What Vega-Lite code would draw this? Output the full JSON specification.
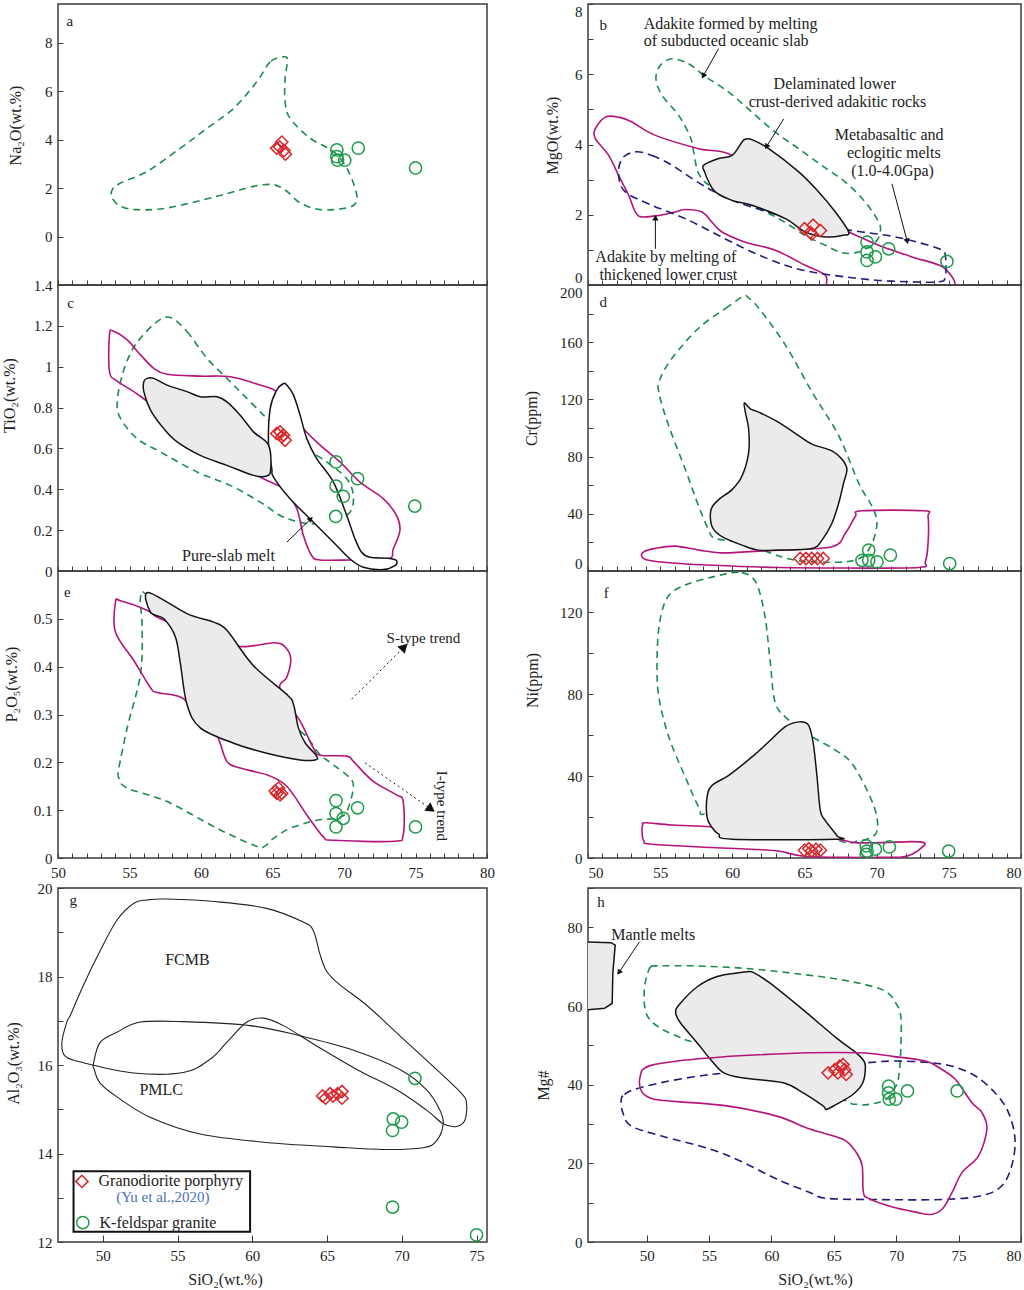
{
"$schema":"https://vega.github.io/schema/vega-lite/v6.json",
"background":"white",
"padding":{"left":0,"top":2,"right":0,"bottom":0},
"config":{
 "view":{"stroke":"#3c3c3c","strokeWidth":1.5},
 "axis":{"domain":false,"grid":false,"offset":-5,"tickSize":5,"tickColor":"#3c3c3c","tickWidth":1,"labelFont":"Liberation Serif","labelFontSize":15,"labelColor":"#222","labelPadding":6,"labelFlush":false,"labelOverlap":false,"titleFont":"Liberation Serif","titleFontSize":16,"titleFontWeight":"normal","titleColor":"#222","titleBaseline":"middle"},
 "axisX":{"labelPadding":7},
 "text":{"font":"Liberation Serif","fontSize":15,"color":"#222"}
},
"datasets":{
 "a_slab":[{"x":65.77,"y":7.42},{"x":64.84,"y":7.21},{"x":63.9,"y":6.39},{"x":62.28,"y":5.29},{"x":60.42,"y":4.47},{"x":58.56,"y":3.65},{"x":56.23,"y":2.69},{"x":54.37,"y":2.21},{"x":53.79,"y":1.93},{"x":53.79,"y":1.59},{"x":54.37,"y":1.25},{"x":55.53,"y":1.11},{"x":57.63,"y":1.18},{"x":61.12,"y":1.66},{"x":63.67,"y":2.07},{"x":65.07,"y":2.14},{"x":66.0,"y":1.87},{"x":66.93,"y":1.39},{"x":68.33,"y":1.11},{"x":70.19,"y":1.18},{"x":70.88,"y":1.45},{"x":70.77,"y":2.0},{"x":70.19,"y":2.83},{"x":69.26,"y":3.51},{"x":67.63,"y":4.06},{"x":66.23,"y":4.88},{"x":65.88,"y":5.57},{"x":65.88,"y":6.53},{"x":66.05,"y":7.28}],
 "b_slab":[{"x":55.82,"y":6.44},{"x":56.97,"y":6.3},{"x":58.01,"y":5.97},{"x":59.75,"y":5.49},{"x":61.36,"y":4.92},{"x":62.98,"y":4.35},{"x":64.6,"y":3.88},{"x":66.21,"y":3.4},{"x":67.83,"y":2.93},{"x":69.21,"y":2.36},{"x":70.14,"y":1.79},{"x":70.25,"y":1.51},{"x":69.91,"y":1.22},{"x":68.75,"y":0.94},{"x":67.6,"y":0.92},{"x":66.44,"y":1.13},{"x":65.06,"y":1.41},{"x":63.21,"y":1.89},{"x":60.9,"y":2.36},{"x":58.59,"y":2.79},{"x":57.67,"y":3.17},{"x":57.32,"y":3.79},{"x":57.09,"y":4.21},{"x":56.28,"y":4.83},{"x":55.13,"y":5.4},{"x":54.71,"y":5.87},{"x":55.01,"y":6.25}],
 "b_thick":[{"x":51.2,"y":4.78},{"x":52.12,"y":4.78},{"x":53.05,"y":4.64},{"x":54.67,"y":4.26},{"x":57.67,"y":3.88},{"x":59.98,"y":3.69},{"x":63.21,"y":2.74},{"x":65.52,"y":1.98},{"x":68.06,"y":1.51},{"x":70.14,"y":1.13},{"x":72.45,"y":0.8},{"x":74.76,"y":0.46},{"x":74.8,"y":-0.2},{"x":67.37,"y":-0.2},{"x":66.44,"y":0.28},{"x":65.06,"y":0.56},{"x":62.98,"y":0.99},{"x":60.9,"y":1.22},{"x":59.28,"y":1.51},{"x":58.59,"y":1.79},{"x":57.9,"y":2.08},{"x":56.74,"y":2.15},{"x":56.05,"y":2.08},{"x":54.9,"y":1.98},{"x":53.74,"y":1.94},{"x":53.28,"y":2.08},{"x":52.82,"y":2.55},{"x":52.12,"y":3.12},{"x":51.43,"y":3.69},{"x":50.51,"y":4.17},{"x":50.51,"y":4.45}],
 "b_meta":[{"x":53.28,"y":3.79},{"x":54.43,"y":3.69},{"x":55.82,"y":3.41},{"x":57.21,"y":3.03},{"x":58.59,"y":2.69},{"x":59.98,"y":2.41},{"x":62.06,"y":2.13},{"x":64.36,"y":1.84},{"x":66.67,"y":1.65},{"x":68.98,"y":1.51},{"x":71.29,"y":1.37},{"x":73.6,"y":1.13},{"x":74.53,"y":0.99},{"x":74.76,"y":0.84},{"x":74.76,"y":0.23},{"x":74.3,"y":0.09},{"x":72.45,"y":0.09},{"x":70.14,"y":0.13},{"x":67.83,"y":0.23},{"x":65.52,"y":0.37},{"x":63.67,"y":0.56},{"x":61.36,"y":0.94},{"x":59.05,"y":1.41},{"x":56.74,"y":1.89},{"x":54.43,"y":2.27},{"x":52.59,"y":2.65},{"x":52.12,"y":3.12},{"x":52.36,"y":3.6}],
 "b_delam":[{"x":58.01,"y":3.41},{"x":59.05,"y":3.6},{"x":59.98,"y":3.69},{"x":60.67,"y":4.07},{"x":60.9,"y":4.15},{"x":61.36,"y":4.14},{"x":62.52,"y":3.88},{"x":64.6,"y":3.22},{"x":65.98,"y":2.65},{"x":67.14,"y":2.08},{"x":68.06,"y":1.51},{"x":67.6,"y":1.41},{"x":66.44,"y":1.37},{"x":65.06,"y":1.51},{"x":63.67,"y":1.89},{"x":61.36,"y":2.27},{"x":59.98,"y":2.41},{"x":58.82,"y":2.65},{"x":58.36,"y":2.94},{"x":58.08,"y":3.22}],
 "c_slab":[{"x":57.86,"y":1.241},{"x":59.02,"y":1.172},{"x":60.42,"y":1.041},{"x":61.81,"y":0.943},{"x":62.98,"y":0.861},{"x":64.37,"y":0.763},{"x":65.3,"y":0.697},{"x":66.93,"y":0.616},{"x":68.79,"y":0.534},{"x":70.19,"y":0.452},{"x":70.65,"y":0.37},{"x":70.42,"y":0.288},{"x":69.26,"y":0.247},{"x":67.86,"y":0.231},{"x":66.7,"y":0.242},{"x":65.53,"y":0.272},{"x":64.14,"y":0.337},{"x":62.05,"y":0.419},{"x":59.72,"y":0.485},{"x":57.16,"y":0.583},{"x":55.53,"y":0.648},{"x":54.37,"y":0.747},{"x":54.14,"y":0.828},{"x":54.49,"y":0.959},{"x":55.07,"y":1.066},{"x":55.77,"y":1.14},{"x":56.93,"y":1.221}],
 "c_thick":[{"x":53.84,"y":1.175},{"x":54.84,"y":1.131},{"x":55.77,"y":1.058},{"x":56.7,"y":0.992},{"x":57.63,"y":0.963},{"x":59.95,"y":0.954},{"x":62.05,"y":0.951},{"x":64.14,"y":0.91},{"x":65.3,"y":0.878},{"x":66.23,"y":0.796},{"x":67.16,"y":0.697},{"x":68.33,"y":0.616},{"x":69.72,"y":0.534},{"x":71.12,"y":0.435},{"x":72.74,"y":0.354},{"x":73.67,"y":0.272},{"x":73.91,"y":0.198},{"x":73.44,"y":0.108},{"x":73.09,"y":0.059},{"x":70.42,"y":0.054},{"x":68.33,"y":0.054},{"x":67.74,"y":0.075},{"x":67.16,"y":0.174},{"x":66.7,"y":0.305},{"x":65.77,"y":0.403},{"x":64.14,"y":0.46},{"x":59.95,"y":0.632},{"x":55.81,"y":0.853},{"x":54.19,"y":0.927},{"x":53.6,"y":0.976},{"x":53.6,"y":1.155}],
 "c_delam":[{"x":56.23,"y":0.943},{"x":56.0,"y":0.927},{"x":56.0,"y":0.878},{"x":56.47,"y":0.788},{"x":57.4,"y":0.697},{"x":58.33,"y":0.632},{"x":59.95,"y":0.566},{"x":61.81,"y":0.517},{"x":63.67,"y":0.468},{"x":64.6,"y":0.465},{"x":64.88,"y":0.501},{"x":64.72,"y":0.616},{"x":63.67,"y":0.681},{"x":62.74,"y":0.763},{"x":61.81,"y":0.828},{"x":61.12,"y":0.853},{"x":59.95,"y":0.853},{"x":59.02,"y":0.878},{"x":57.63,"y":0.91},{"x":56.7,"y":0.943}],
 "c_pure":[{"x":65.77,"y":0.918},{"x":66.0,"y":0.91},{"x":66.47,"y":0.861},{"x":66.93,"y":0.763},{"x":67.4,"y":0.648},{"x":68.09,"y":0.55},{"x":69.26,"y":0.435},{"x":70.19,"y":0.272},{"x":70.77,"y":0.157},{"x":71.23,"y":0.092},{"x":71.81,"y":0.067},{"x":73.09,"y":0.062},{"x":73.67,"y":0.051},{"x":73.56,"y":0.026},{"x":72.74,"y":0.007},{"x":71.35,"y":0.018},{"x":70.42,"y":0.059},{"x":69.26,"y":0.141},{"x":67.86,"y":0.239},{"x":66.23,"y":0.354},{"x":65.07,"y":0.46},{"x":64.95,"y":0.501},{"x":64.72,"y":0.616},{"x":64.84,"y":0.796},{"x":65.3,"y":0.886}],
 "d_slab":[{"x":60.79,"y":192.2},{"x":59.75,"y":185.2},{"x":57.67,"y":169.9},{"x":55.82,"y":148.7},{"x":55.01,"y":134.6},{"x":54.9,"y":125.2},{"x":55.59,"y":101.6},{"x":56.74,"y":71.1},{"x":57.67,"y":45.2},{"x":58.36,"y":28.7},{"x":58.82,"y":22.8},{"x":60.9,"y":19.3},{"x":62.75,"y":12.2},{"x":64.13,"y":8.0},{"x":65.52,"y":6.4},{"x":67.83,"y":6.4},{"x":68.98,"y":9.9},{"x":69.68,"y":19.3},{"x":70.02,"y":33.4},{"x":69.68,"y":45.2},{"x":68.75,"y":61.6},{"x":67.37,"y":94.6},{"x":65.52,"y":125.2},{"x":63.67,"y":158.1},{"x":61.82,"y":184.0},{"x":61.13,"y":191.0}],
 "d_thick":[{"x":53.86,"y":13.4},{"x":53.74,"y":9.9},{"x":54.2,"y":7.5},{"x":55.82,"y":5.6},{"x":58.59,"y":4.0},{"x":63.21,"y":2.4},{"x":67.83,"y":2.1},{"x":72.91,"y":2.4},{"x":73.37,"y":6.4},{"x":73.56,"y":19.3},{"x":73.56,"y":38.1},{"x":73.26,"y":42.1},{"x":68.98,"y":42.1},{"x":68.52,"y":38.1},{"x":67.83,"y":26.4},{"x":66.9,"y":16.9},{"x":63.21,"y":14.6},{"x":60.9,"y":13.4},{"x":59.28,"y":12.7},{"x":57.67,"y":14.6},{"x":56.05,"y":17.4},{"x":54.67,"y":15.8}],
 "d_delam":[{"x":60.83,"y":117.6},{"x":61.25,"y":113.4},{"x":61.82,"y":111.1},{"x":63.21,"y":104.0},{"x":64.6,"y":94.6},{"x":65.52,"y":88.7},{"x":66.9,"y":84.0},{"x":67.6,"y":78.1},{"x":67.94,"y":71.1},{"x":67.71,"y":61.6},{"x":67.37,"y":47.5},{"x":66.9,"y":33.4},{"x":66.21,"y":21.6},{"x":65.52,"y":15.8},{"x":63.21,"y":14.6},{"x":61.82,"y":14.6},{"x":60.67,"y":18.1},{"x":59.28,"y":24.0},{"x":58.59,"y":31.1},{"x":58.52,"y":42.8},{"x":59.05,"y":49.9},{"x":59.98,"y":56.9},{"x":60.67,"y":66.4},{"x":61.13,"y":82.8},{"x":61.13,"y":99.3},{"x":60.9,"y":111.1}],
 "e_slab":[{"x":55.77,"y":0.545},{"x":56.35,"y":0.545},{"x":59.95,"y":0.413},{"x":64.6,"y":0.307},{"x":66.93,"y":0.265},{"x":67.63,"y":0.244},{"x":68.33,"y":0.216},{"x":69.26,"y":0.195},{"x":70.42,"y":0.167},{"x":70.65,"y":0.146},{"x":70.19,"y":0.097},{"x":69.49,"y":0.083},{"x":68.09,"y":0.079},{"x":66.23,"y":0.062},{"x":65.07,"y":0.041},{"x":64.37,"y":0.023},{"x":63.67,"y":0.027},{"x":61.12,"y":0.062},{"x":57.63,"y":0.118},{"x":54.84,"y":0.146},{"x":54.26,"y":0.167},{"x":54.26,"y":0.188},{"x":54.84,"y":0.272},{"x":55.77,"y":0.385},{"x":55.88,"y":0.483}],
 "e_thick":[{"x":54.02,"y":0.535},{"x":54.37,"y":0.538},{"x":56.23,"y":0.518},{"x":57.16,"y":0.5},{"x":60.42,"y":0.462},{"x":62.74,"y":0.442},{"x":65.19,"y":0.45},{"x":66.0,"y":0.437},{"x":66.28,"y":0.413},{"x":66.0,"y":0.378},{"x":65.53,"y":0.353},{"x":66.93,"y":0.286},{"x":67.86,"y":0.23},{"x":68.33,"y":0.215},{"x":70.19,"y":0.213},{"x":70.65,"y":0.202},{"x":72.05,"y":0.16},{"x":73.67,"y":0.132},{"x":74.14,"y":0.118},{"x":74.14,"y":0.048},{"x":73.44,"y":0.035},{"x":69.26,"y":0.037},{"x":68.56,"y":0.044},{"x":67.4,"y":0.09},{"x":66.47,"y":0.132},{"x":65.77,"y":0.156},{"x":64.6,"y":0.174},{"x":62.74,"y":0.188},{"x":61.81,"y":0.202},{"x":61.12,"y":0.255},{"x":59.95,"y":0.293},{"x":58.67,"y":0.335},{"x":56.93,"y":0.346},{"x":56.47,"y":0.356},{"x":55.3,"y":0.413},{"x":54.02,"y":0.472}],
 "e_delam":[{"x":56.3,"y":0.555},{"x":59.02,"y":0.511},{"x":60.88,"y":0.493},{"x":61.81,"y":0.476},{"x":63.67,"y":0.402},{"x":66.0,"y":0.342},{"x":66.47,"y":0.321},{"x":66.81,"y":0.272},{"x":67.28,"y":0.241},{"x":68.09,"y":0.213},{"x":67.98,"y":0.205},{"x":66.93,"y":0.205},{"x":64.6,"y":0.219},{"x":62.28,"y":0.24},{"x":59.95,"y":0.272},{"x":59.02,"y":0.321},{"x":58.56,"y":0.406},{"x":58.21,"y":0.462},{"x":57.4,"y":0.5},{"x":56.47,"y":0.514}],
 "f_slab":[{"x":59.98,"y":139.2},{"x":60.67,"y":139.2},{"x":61.36,"y":137.0},{"x":61.82,"y":131.3},{"x":62.29,"y":116.6},{"x":62.63,"y":95.2},{"x":62.98,"y":75.6},{"x":63.9,"y":67.4},{"x":65.52,"y":59.2},{"x":67.14,"y":52.6},{"x":68.29,"y":46.1},{"x":69.45,"y":31.3},{"x":70.02,"y":19.8},{"x":69.91,"y":11.6},{"x":68.75,"y":8.4},{"x":67.14,"y":9.2},{"x":60.9,"y":29.7},{"x":58.13,"y":21.5},{"x":57.67,"y":24.8},{"x":56.74,"y":39.5},{"x":55.59,"y":59.2},{"x":54.9,"y":78.9},{"x":54.78,"y":95.2},{"x":54.9,"y":111.6},{"x":55.24,"y":123.1},{"x":55.82,"y":129.7},{"x":56.97,"y":133.8},{"x":58.59,"y":137.0}],
 "f_thick":[{"x":53.97,"y":17.2},{"x":55.82,"y":16.1},{"x":58.59,"y":15.2},{"x":63.21,"y":13.3},{"x":67.25,"y":9.2},{"x":68.52,"y":7.5},{"x":70.14,"y":7.5},{"x":72.45,"y":8.0},{"x":73.26,"y":7.5},{"x":73.26,"y":5.9},{"x":72.45,"y":1.8},{"x":71.76,"y":0.5},{"x":70.14,"y":0.3},{"x":67.83,"y":0.3},{"x":64.83,"y":1.0},{"x":63.21,"y":3.4},{"x":61.36,"y":4.3},{"x":58.59,"y":5.1},{"x":54.43,"y":6.7},{"x":53.86,"y":8.4},{"x":53.74,"y":13.3},{"x":53.79,"y":16.2}],
 "f_delam":[{"x":64.6,"y":66.4},{"x":65.17,"y":65.7},{"x":65.41,"y":62.5},{"x":65.64,"y":54.4},{"x":65.87,"y":39.5},{"x":66.1,"y":23.1},{"x":66.44,"y":18.2},{"x":67.25,"y":10.8},{"x":67.14,"y":9.2},{"x":59.98,"y":9.2},{"x":59.05,"y":11.6},{"x":58.59,"y":14.9},{"x":58.25,"y":19.8},{"x":58.25,"y":29.7},{"x":58.59,"y":35.4},{"x":59.75,"y":40.3},{"x":61.36,"y":49.3},{"x":62.52,"y":56.7},{"x":63.67,"y":64.1}],
 "g_fcmb":[{"x":47.59,"y":16.97},{"x":47.26,"y":16.51},{"x":47.48,"y":16.2},{"x":48.71,"y":16.05},{"x":52.05,"y":15.82},{"x":55.39,"y":15.83},{"x":57.17,"y":16.13},{"x":58.29,"y":16.51},{"x":59.63,"y":16.97},{"x":60.74,"y":17.06},{"x":62.08,"y":16.89},{"x":64.3,"y":16.43},{"x":66.98,"y":15.9},{"x":69.65,"y":15.44},{"x":71.66,"y":14.98},{"x":72.77,"y":14.67},{"x":73.66,"y":14.61},{"x":74.22,"y":14.75},{"x":74.33,"y":15.13},{"x":73.99,"y":15.36},{"x":72.1,"y":15.97},{"x":69.87,"y":16.66},{"x":67.65,"y":17.35},{"x":65.86,"y":17.81},{"x":64.97,"y":18.12},{"x":64.53,"y":18.5},{"x":64.08,"y":19.04},{"x":63.41,"y":19.23},{"x":60.96,"y":19.54},{"x":57.62,"y":19.69},{"x":54.28,"y":19.75},{"x":52.94,"y":19.73},{"x":52.05,"y":19.65},{"x":50.94,"y":19.27},{"x":49.82,"y":18.58},{"x":48.71,"y":17.81},{"x":47.82,"y":17.12}],
 "g_pmlc":[{"x":49.38,"y":16.05},{"x":49.82,"y":16.51},{"x":50.94,"y":16.74},{"x":52.5,"y":16.97},{"x":55.39,"y":16.98},{"x":59.85,"y":16.89},{"x":63.19,"y":16.66},{"x":66.53,"y":16.36},{"x":69.87,"y":15.9},{"x":71.66,"y":15.44},{"x":72.55,"y":14.98},{"x":72.77,"y":14.67},{"x":72.33,"y":14.29},{"x":71.43,"y":14.13},{"x":68.76,"y":14.09},{"x":65.42,"y":14.15},{"x":60.96,"y":14.25},{"x":56.51,"y":14.44},{"x":53.16,"y":14.82},{"x":50.94,"y":15.28},{"x":49.82,"y":15.59},{"x":49.42,"y":15.9}],
 "h_mantle":[{"x":45.0,"y":76.3},{"x":47.16,"y":76.1},{"x":47.48,"y":75.5},{"x":47.29,"y":68.3},{"x":47.24,"y":60.7},{"x":46.63,"y":59.4},{"x":45.0,"y":59.0}],
 "h_slab":[{"x":50.08,"y":68.3},{"x":50.34,"y":70.0},{"x":50.88,"y":70.2},{"x":53.79,"y":70.2},{"x":57.77,"y":69.6},{"x":61.75,"y":68.3},{"x":65.73,"y":66.6},{"x":68.91,"y":64.1},{"x":69.97,"y":60.7},{"x":70.37,"y":57.3},{"x":70.37,"y":49.7},{"x":70.24,"y":43.0},{"x":69.97,"y":39.6},{"x":69.18,"y":36.3},{"x":67.85,"y":35.0},{"x":66.79,"y":35.0},{"x":65.73,"y":36.3},{"x":60.42,"y":46.4},{"x":54.06,"y":50.6},{"x":52.47,"y":52.3},{"x":50.88,"y":54.8},{"x":49.95,"y":58.2},{"x":49.81,"y":64.1}],
 "h_thick":[{"x":49.42,"y":40.5},{"x":49.55,"y":43.0},{"x":49.68,"y":43.8},{"x":50.34,"y":44.9},{"x":52.47,"y":46.0},{"x":55.12,"y":46.8},{"x":57.77,"y":47.4},{"x":63.08,"y":48.1},{"x":67.06,"y":48.1},{"x":69.71,"y":47.2},{"x":72.36,"y":46.0},{"x":73.69,"y":43.8},{"x":74.75,"y":41.3},{"x":76.07,"y":35.4},{"x":76.87,"y":32.9},{"x":77.27,"y":28.7},{"x":76.6,"y":21.9},{"x":75.28,"y":17.7},{"x":74.48,"y":12.6},{"x":73.69,"y":8.4},{"x":72.76,"y":7.0},{"x":71.56,"y":7.6},{"x":69.71,"y":8.9},{"x":67.85,"y":11.0},{"x":67.37,"y":12.6},{"x":67.27,"y":19.4},{"x":66.79,"y":22.8},{"x":65.73,"y":26.1},{"x":63.08,"y":28.7},{"x":60.42,"y":32.0},{"x":56.45,"y":34.6},{"x":52.47,"y":35.7},{"x":50.61,"y":36.3},{"x":49.68,"y":37.9}],
 "h_meta":[{"x":47.96,"y":36.3},{"x":48.22,"y":37.5},{"x":49.02,"y":38.8},{"x":51.14,"y":40.5},{"x":53.79,"y":42.0},{"x":56.45,"y":43.0},{"x":60.42,"y":43.8},{"x":67.32,"y":45.5},{"x":69.71,"y":46.0},{"x":72.36,"y":45.7},{"x":74.48,"y":44.7},{"x":76.34,"y":42.2},{"x":77.93,"y":37.9},{"x":79.0,"y":32.9},{"x":79.52,"y":26.1},{"x":79.26,"y":19.4},{"x":78.46,"y":14.3},{"x":76.87,"y":11.8},{"x":73.69,"y":10.8},{"x":68.38,"y":10.8},{"x":64.4,"y":11.1},{"x":63.08,"y":12.6},{"x":60.42,"y":16.0},{"x":57.77,"y":20.2},{"x":55.12,"y":23.6},{"x":51.14,"y":27.0},{"x":48.75,"y":29.5},{"x":48.09,"y":32.9}],
 "h_delam":[{"x":57.5,"y":68.5},{"x":58.04,"y":68.7},{"x":58.57,"y":68.5},{"x":59.89,"y":65.8},{"x":62.55,"y":59.0},{"x":65.2,"y":51.9},{"x":66.79,"y":48.1},{"x":67.32,"y":46.4},{"x":67.53,"y":44.7},{"x":67.32,"y":40.5},{"x":66.53,"y":37.5},{"x":65.2,"y":35.0},{"x":64.4,"y":33.7},{"x":64.14,"y":34.6},{"x":62.55,"y":37.9},{"x":60.95,"y":40.5},{"x":57.77,"y":41.7},{"x":56.18,"y":43.0},{"x":55.12,"y":46.4},{"x":54.06,"y":50.6},{"x":52.73,"y":55.6},{"x":52.33,"y":58.2},{"x":52.6,"y":60.3},{"x":54.06,"y":64.9},{"x":55.65,"y":67.5}],
 "samples":[
  {"p":"a","rock":"Granodiorite porphyry","x":65.3,"y":3.65},{"p":"a","rock":"Granodiorite porphyry","x":65.5,"y":3.7},{"p":"a","rock":"Granodiorite porphyry","x":65.65,"y":3.9},{"p":"a","rock":"Granodiorite porphyry","x":65.8,"y":3.55},{"p":"a","rock":"Granodiorite porphyry","x":65.9,"y":3.4},
  {"p":"a","rock":"K-feldspar granite","x":69.5,"y":3.58},{"p":"a","rock":"K-feldspar granite","x":69.5,"y":3.3},{"p":"a","rock":"K-feldspar granite","x":69.55,"y":3.15},{"p":"a","rock":"K-feldspar granite","x":70.05,"y":3.15},{"p":"a","rock":"K-feldspar granite","x":71.0,"y":3.65},{"p":"a","rock":"K-feldspar granite","x":75.0,"y":2.83},
  {"p":"b","rock":"Granodiorite porphyry","x":65.0,"y":1.6},{"p":"b","rock":"Granodiorite porphyry","x":65.4,"y":1.5},{"p":"b","rock":"Granodiorite porphyry","x":65.6,"y":1.7},{"p":"b","rock":"Granodiorite porphyry","x":66.1,"y":1.55},{"p":"b","rock":"Granodiorite porphyry","x":65.5,"y":1.45},
  {"p":"b","rock":"K-feldspar granite","x":69.33,"y":1.22},{"p":"b","rock":"K-feldspar granite","x":69.33,"y":0.94},{"p":"b","rock":"K-feldspar granite","x":69.33,"y":0.7},{"p":"b","rock":"K-feldspar granite","x":69.91,"y":0.8},{"p":"b","rock":"K-feldspar granite","x":70.83,"y":1.03},{"p":"b","rock":"K-feldspar granite","x":74.87,"y":0.67},
  {"p":"c","rock":"Granodiorite porphyry","x":65.3,"y":0.673},{"p":"c","rock":"Granodiorite porphyry","x":65.53,"y":0.681},{"p":"c","rock":"Granodiorite porphyry","x":65.77,"y":0.665},{"p":"c","rock":"Granodiorite porphyry","x":65.88,"y":0.64},{"p":"c","rock":"Granodiorite porphyry","x":65.65,"y":0.657},
  {"p":"c","rock":"K-feldspar granite","x":69.44,"y":0.534},{"p":"c","rock":"K-feldspar granite","x":69.44,"y":0.416},{"p":"c","rock":"K-feldspar granite","x":69.95,"y":0.365},{"p":"c","rock":"K-feldspar granite","x":69.42,"y":0.267},{"p":"c","rock":"K-feldspar granite","x":70.95,"y":0.452},{"p":"c","rock":"K-feldspar granite","x":74.95,"y":0.318},
  {"p":"d","rock":"Granodiorite porphyry","x":64.7,"y":8.7},{"p":"d","rock":"Granodiorite porphyry","x":65.1,"y":8.7},{"p":"d","rock":"Granodiorite porphyry","x":65.5,"y":8.7},{"p":"d","rock":"Granodiorite porphyry","x":65.9,"y":8.7},{"p":"d","rock":"Granodiorite porphyry","x":66.3,"y":8.7},
  {"p":"d","rock":"K-feldspar granite","x":69.45,"y":14.6},{"p":"d","rock":"K-feldspar granite","x":68.98,"y":7.5},{"p":"d","rock":"K-feldspar granite","x":69.45,"y":7.5},{"p":"d","rock":"K-feldspar granite","x":70.02,"y":6.4},{"p":"d","rock":"K-feldspar granite","x":70.95,"y":11.1},{"p":"d","rock":"K-feldspar granite","x":75.06,"y":5.2},
  {"p":"e","rock":"Granodiorite porphyry","x":65.19,"y":0.14},{"p":"e","rock":"Granodiorite porphyry","x":65.42,"y":0.146},{"p":"e","rock":"Granodiorite porphyry","x":65.65,"y":0.135},{"p":"e","rock":"Granodiorite porphyry","x":65.53,"y":0.132},{"p":"e","rock":"Granodiorite porphyry","x":65.3,"y":0.135},
  {"p":"e","rock":"K-feldspar granite","x":69.44,"y":0.12},{"p":"e","rock":"K-feldspar granite","x":69.44,"y":0.093},{"p":"e","rock":"K-feldspar granite","x":69.95,"y":0.083},{"p":"e","rock":"K-feldspar granite","x":69.44,"y":0.065},{"p":"e","rock":"K-feldspar granite","x":70.95,"y":0.105},{"p":"e","rock":"K-feldspar granite","x":75.0,"y":0.065},
  {"p":"f","rock":"Granodiorite porphyry","x":65.0,"y":3.8},{"p":"f","rock":"Granodiorite porphyry","x":65.3,"y":4.5},{"p":"f","rock":"Granodiorite porphyry","x":65.5,"y":3.5},{"p":"f","rock":"Granodiorite porphyry","x":65.8,"y":4.2},{"p":"f","rock":"Granodiorite porphyry","x":66.1,"y":3.8},
  {"p":"f","rock":"K-feldspar granite","x":69.28,"y":5.9},{"p":"f","rock":"K-feldspar granite","x":69.33,"y":3.4},{"p":"f","rock":"K-feldspar granite","x":69.28,"y":1.8},{"p":"f","rock":"K-feldspar granite","x":69.91,"y":4.3},{"p":"f","rock":"K-feldspar granite","x":70.88,"y":5.4},{"p":"f","rock":"K-feldspar granite","x":74.99,"y":3.4},
  {"p":"g","rock":"Granodiorite porphyry","x":64.7,"y":15.3},{"p":"g","rock":"Granodiorite porphyry","x":64.9,"y":15.25},{"p":"g","rock":"Granodiorite porphyry","x":65.2,"y":15.35},{"p":"g","rock":"Granodiorite porphyry","x":65.4,"y":15.3},{"p":"g","rock":"Granodiorite porphyry","x":65.7,"y":15.35},{"p":"g","rock":"Granodiorite porphyry","x":66.0,"y":15.4},{"p":"g","rock":"Granodiorite porphyry","x":66.0,"y":15.25},
  {"p":"g","rock":"K-feldspar granite","x":70.88,"y":15.7},{"p":"g","rock":"K-feldspar granite","x":69.43,"y":14.78},{"p":"g","rock":"K-feldspar granite","x":69.99,"y":14.71},{"p":"g","rock":"K-feldspar granite","x":69.38,"y":14.52},{"p":"g","rock":"K-feldspar granite","x":69.38,"y":12.79},{"p":"g","rock":"K-feldspar granite","x":75.0,"y":12.16},
  {"p":"h","rock":"Granodiorite porphyry","x":64.54,"y":43.0},{"p":"h","rock":"Granodiorite porphyry","x":65.07,"y":43.8},{"p":"h","rock":"Granodiorite porphyry","x":65.46,"y":44.7},{"p":"h","rock":"Granodiorite porphyry","x":65.86,"y":43.8},{"p":"h","rock":"Granodiorite porphyry","x":65.99,"y":42.6},{"p":"h","rock":"Granodiorite porphyry","x":65.33,"y":43.0},{"p":"h","rock":"Granodiorite porphyry","x":65.73,"y":45.1},
  {"p":"h","rock":"K-feldspar granite","x":69.39,"y":39.6},{"p":"h","rock":"K-feldspar granite","x":69.39,"y":37.9},{"p":"h","rock":"K-feldspar granite","x":69.44,"y":36.3},{"p":"h","rock":"K-feldspar granite","x":69.97,"y":36.3},{"p":"h","rock":"K-feldspar granite","x":70.9,"y":38.4},{"p":"h","rock":"K-feldspar granite","x":74.88,"y":38.4}
 ],
 "legend_sym":[{"p":"g","rock":"Granodiorite porphyry","x":48.6,"y":13.37},{"p":"g","rock":"K-feldspar granite","x":48.66,"y":12.44}],
 "legend_box":[{"x":48.04,"x2":59.85,"y":13.6,"y2":12.23}],
 "letters":[{"p":"a","t":"a","x":50.6,"y":8.89},{"p":"b","t":"b","x":50.79,"y":7.39},{"p":"c","t":"c","x":50.65,"y":1.311},{"p":"d","t":"d","x":50.79,"y":188.2},{"p":"e","t":"e","x":50.42,"y":0.556},{"p":"f","t":"f","x":51.09,"y":129.3},{"p":"g","t":"g","x":47.77,"y":19.73},{"p":"h","t":"h","x":46.05,"y":86.4}],
 "notes":[
  {"p":"b","t":"Adakite formed by melting","x":53.86,"y":7.44},
  {"p":"b","t":"of subducted oceanic slab","x":53.86,"y":6.94},
  {"p":"b","t":"Delaminated lower","x":62.86,"y":5.73},
  {"p":"b","t":"crust-derived adakitic rocks","x":61.13,"y":5.21},
  {"p":"b","t":"Metabasaltic and","x":67.09,"y":4.28},
  {"p":"b","t":"eclogitic melts","x":67.94,"y":3.76},
  {"p":"b","t":"(1.0-4.0Gpa)","x":68.24,"y":3.24},
  {"p":"b","t":"Adakite by melting of","x":50.51,"y":0.8},
  {"p":"b","t":"thickened lower crust","x":50.79,"y":0.29},
  {"p":"c","t":"Pure-slab melt","x":58.67,"y":0.075},
  {"p":"e","t":"S-type trend","x":72.98,"y":0.46},
  {"p":"g","t":"FCMB","x":54.17,"y":18.37},
  {"p":"g","t":"PMLC","x":52.45,"y":15.44},
  {"p":"g","t":"Granodiorite porphyry","x":49.71,"y":13.37},
  {"p":"g","t":"K-feldspar granite","x":49.78,"y":12.44},
  {"p":"h","t":"Mantle melts","x":47.16,"y":78.0}
 ],
 "ref":[{"p":"g","t":"(Yu et al.,2020)","x":50.89,"y":13.02}],
 "vnotes":[{"p":"e","t":"I-type trend","x":76.88,"y":0.109}],
 "arrows":[
  {"p":"b","id":"b1","x":59.05,"y":6.73},{"p":"b","id":"b1","x":58.01,"y":5.97},
  {"p":"b","id":"b2","x":63.56,"y":4.73},{"p":"b","id":"b2","x":62.4,"y":3.96},
  {"p":"b","id":"b3","x":71.06,"y":2.88},{"p":"b","id":"b3","x":72.1,"y":1.27},
  {"p":"b","id":"b4","x":54.67,"y":1.03},{"p":"b","id":"b4","x":54.67,"y":1.89},
  {"p":"c","id":"c1","x":66.0,"y":0.141},{"p":"c","id":"c1","x":67.63,"y":0.252},
  {"p":"h","id":"h1","x":49.42,"y":76.3},{"p":"h","id":"h1","x":47.82,"y":68.7}
 ],
 "dotted":[
  {"p":"e","id":"e1","x":70.53,"y":0.332},{"p":"e","id":"e1","x":74.14,"y":0.439},
  {"p":"e","id":"e2","x":71.47,"y":0.199},{"p":"e","id":"e2","x":76.0,"y":0.104}
 ],
 "heads":[
  {"p":"b","x":58.01,"y":5.97,"ang":211},{"p":"b","x":62.4,"y":3.96,"ang":211},{"p":"b","x":72.1,"y":1.27,"ang":165},{"p":"b","x":54.67,"y":1.89,"ang":0},
  {"p":"c","x":67.63,"y":0.252,"ang":46},{"p":"h","x":47.82,"y":68.7,"ang":214},
  {"p":"e","x":74.14,"y":0.439,"ang":45},{"p":"e","x":76.0,"y":0.104,"ang":125}
 ],
 "blank":[{"x":0}]
},
"columns":2,
"spacing":{"row":0,"column":101},
"bounds":"flush",
"align":"each",
"concat":[
 {"width":429,"height":281,
  "encoding":{
   "x":{"field":"x","type":"quantitative","scale":{"domain":[50,80],"nice":false,"zero":false},"axis":{"values":[50,51,52,53,54,55,56,57,58,59,60,61,62,63,64,65,66,67,68,69,70,71,72,73,74,75,76,77,78,79,80],"labels":false,"title":null}},
   "y":{"field":"y","type":"quantitative","scale":{"domain":[-2,9.6],"nice":false,"zero":false},"axis":{"values":[0,2,4,6,8],"format":"~g","title":"Na₂O(wt.%)","titleX":-48,"titleY":121}}
  },
  "layer":[
   {"data":{"name":"a_slab"},"mark":{"type":"line","interpolate":"cardinal-closed","stroke":"#1c8c4e","strokeDash":[7,5],"strokeWidth":1.6,"clip":true},"encoding":{"order":{"value":null}}},
   {"data":{"name":"samples"},"transform":[{"filter":"datum.p=='a'"}],"mark":{"type":"point","filled":false,"size":150,"strokeWidth":1.5,"opacity":1,"clip":true},"encoding":{"shape":{"field":"rock","type":"nominal","scale":{"domain":["Granodiorite porphyry","K-feldspar granite"],"range":["diamond","circle"]},"legend":null},"color":{"field":"rock","type":"nominal","scale":{"domain":["Granodiorite porphyry","K-feldspar granite"],"range":["#d8262b","#1f9a4c"]},"legend":null}}},
   {"data":{"name":"letters"},"transform":[{"filter":"datum.p=='a'"}],"mark":{"type":"text","align":"left","baseline":"middle","fontSize":15},"encoding":{"text":{"field":"t","type":"nominal"}}}
  ]},
 {"width":433,"height":281,
  "encoding":{
   "x":{"field":"x","type":"quantitative","scale":{"domain":[50,80],"nice":false,"zero":false},"axis":{"values":[50,51,52,53,54,55,56,57,58,59,60,61,62,63,64,65,66,67,68,69,70,71,72,73,74,75,76,77,78,79,80],"labels":false,"title":null}},
   "y":{"field":"y","type":"quantitative","scale":{"domain":[0,8],"nice":false,"zero":false},"axis":{"values":[0,1,2,3,4,5,6,7,8],"labelExpr":"datum.value % 2 == 0 ? datum.label : ''","labelFlush":true,"title":"MgO(wt.%)","titleX":-41,"titleY":131}}
  },
  "layer":[
   {"data":{"name":"b_slab"},"mark":{"type":"line","interpolate":"cardinal-closed","stroke":"#1c8c4e","strokeDash":[7,5],"strokeWidth":1.6,"clip":true},"encoding":{"order":{"value":null}}},
   {"data":{"name":"b_thick"},"mark":{"type":"line","interpolate":"cardinal-closed","stroke":"#b3157c","strokeWidth":1.6,"clip":true},"encoding":{"order":{"value":null}}},
   {"data":{"name":"b_meta"},"mark":{"type":"line","interpolate":"cardinal-closed","stroke":"#1e1e78","strokeDash":[8,5],"strokeWidth":1.6,"clip":true},"encoding":{"order":{"value":null}}},
   {"data":{"name":"b_delam"},"mark":{"type":"line","interpolate":"cardinal-closed","stroke":"#141414","fill":"#ebebeb","strokeWidth":1.5,"clip":true},"encoding":{"order":{"value":null}}},
   {"data":{"name":"arrows"},"transform":[{"filter":"datum.p=='b'"}],"mark":{"type":"line","stroke":"#111","strokeWidth":1},"encoding":{"detail":{"field":"id","type":"nominal"},"order":{"value":null}}},
   {"data":{"name":"heads"},"transform":[{"filter":"datum.p=='b'"}],"mark":{"type":"point","shape":"triangle","filled":true,"color":"#111","size":40,"opacity":1},"encoding":{"angle":{"field":"ang","type":"quantitative","scale":null}}},
   {"data":{"name":"samples"},"transform":[{"filter":"datum.p=='b'"}],"mark":{"type":"point","filled":false,"size":150,"strokeWidth":1.5,"opacity":1,"clip":true},"encoding":{"shape":{"field":"rock","type":"nominal","scale":{"domain":["Granodiorite porphyry","K-feldspar granite"],"range":["diamond","circle"]},"legend":null},"color":{"field":"rock","type":"nominal","scale":{"domain":["Granodiorite porphyry","K-feldspar granite"],"range":["#d8262b","#1f9a4c"]},"legend":null}}},
   {"data":{"name":"notes"},"transform":[{"filter":"datum.p=='b'"}],"mark":{"type":"text","align":"left","baseline":"middle","fontSize":16},"encoding":{"text":{"field":"t","type":"nominal"}}},
   {"data":{"name":"letters"},"transform":[{"filter":"datum.p=='b'"}],"mark":{"type":"text","align":"left","baseline":"middle","fontSize":15},"encoding":{"text":{"field":"t","type":"nominal"}}}
  ]},
 {"width":429,"height":286,
  "encoding":{
   "x":{"field":"x","type":"quantitative","scale":{"domain":[50,80],"nice":false,"zero":false},"axis":{"values":[50,51,52,53,54,55,56,57,58,59,60,61,62,63,64,65,66,67,68,69,70,71,72,73,74,75,76,77,78,79,80],"labels":false,"title":null}},
   "y":{"field":"y","type":"quantitative","scale":{"domain":[0,1.4],"nice":false,"zero":false},"axis":{"values":[0,0.2,0.4,0.6,0.8,1,1.2,1.4],"format":"~g","title":"TiO₂(wt.%)","titleX":-54,"titleY":110}}
  },
  "layer":[
   {"data":{"name":"c_slab"},"mark":{"type":"line","interpolate":"cardinal-closed","stroke":"#1c8c4e","strokeDash":[7,5],"strokeWidth":1.6,"clip":true},"encoding":{"order":{"value":null}}},
   {"data":{"name":"c_thick"},"mark":{"type":"line","interpolate":"cardinal-closed","stroke":"#b3157c","strokeWidth":1.6,"clip":true},"encoding":{"order":{"value":null}}},
   {"data":{"name":"c_pure"},"mark":{"type":"line","interpolate":"cardinal-closed","stroke":"#141414","fill":"white","strokeWidth":1.5,"clip":true},"encoding":{"order":{"value":null}}},
   {"data":{"name":"c_delam"},"mark":{"type":"line","interpolate":"cardinal-closed","stroke":"#141414","fill":"#ebebeb","strokeWidth":1.5,"clip":true},"encoding":{"order":{"value":null}}},
   {"data":{"name":"arrows"},"transform":[{"filter":"datum.p=='c'"}],"mark":{"type":"line","stroke":"#111","strokeWidth":1},"encoding":{"detail":{"field":"id","type":"nominal"},"order":{"value":null}}},
   {"data":{"name":"heads"},"transform":[{"filter":"datum.p=='c'"}],"mark":{"type":"point","shape":"triangle","filled":true,"color":"#111","size":40,"opacity":1},"encoding":{"angle":{"field":"ang","type":"quantitative","scale":null}}},
   {"data":{"name":"samples"},"transform":[{"filter":"datum.p=='c'"}],"mark":{"type":"point","filled":false,"size":150,"strokeWidth":1.5,"opacity":1,"clip":true},"encoding":{"shape":{"field":"rock","type":"nominal","scale":{"domain":["Granodiorite porphyry","K-feldspar granite"],"range":["diamond","circle"]},"legend":null},"color":{"field":"rock","type":"nominal","scale":{"domain":["Granodiorite porphyry","K-feldspar granite"],"range":["#d8262b","#1f9a4c"]},"legend":null}}},
   {"data":{"name":"notes"},"transform":[{"filter":"datum.p=='c'"}],"mark":{"type":"text","align":"left","baseline":"middle","fontSize":16},"encoding":{"text":{"field":"t","type":"nominal"}}},
   {"data":{"name":"letters"},"transform":[{"filter":"datum.p=='c'"}],"mark":{"type":"text","align":"left","baseline":"middle","fontSize":15},"encoding":{"text":{"field":"t","type":"nominal"}}}
  ]},
 {"width":433,"height":286,
  "encoding":{
   "x":{"field":"x","type":"quantitative","scale":{"domain":[50,80],"nice":false,"zero":false},"axis":{"values":[50,51,52,53,54,55,56,57,58,59,60,61,62,63,64,65,66,67,68,69,70,71,72,73,74,75,76,77,78,79,80],"labels":false,"title":null}},
   "y":{"field":"y","type":"quantitative","scale":{"domain":[0,200],"nice":false,"zero":false},"axis":{"values":[0,20,40,60,80,100,120,140,160,180,200],"labelExpr":"datum.value % 40 == 0 ? datum.label : ''","labelFlush":true,"title":"Cr(ppm)","titleX":-62,"titleY":133}}
  },
  "layer":[
   {"data":{"name":"d_slab"},"mark":{"type":"line","interpolate":"cardinal-closed","stroke":"#1c8c4e","strokeDash":[7,5],"strokeWidth":1.6,"clip":true},"encoding":{"order":{"value":null}}},
   {"data":{"name":"d_thick"},"mark":{"type":"line","interpolate":"cardinal-closed","stroke":"#b3157c","strokeWidth":1.6,"clip":true},"encoding":{"order":{"value":null}}},
   {"data":{"name":"d_delam"},"mark":{"type":"line","interpolate":"cardinal-closed","stroke":"#141414","fill":"#ebebeb","strokeWidth":1.5,"clip":true},"encoding":{"order":{"value":null}}},
   {"data":{"name":"samples"},"transform":[{"filter":"datum.p=='d'"}],"mark":{"type":"point","filled":false,"size":150,"strokeWidth":1.5,"opacity":1,"clip":true},"encoding":{"shape":{"field":"rock","type":"nominal","scale":{"domain":["Granodiorite porphyry","K-feldspar granite"],"range":["diamond","circle"]},"legend":null},"color":{"field":"rock","type":"nominal","scale":{"domain":["Granodiorite porphyry","K-feldspar granite"],"range":["#d8262b","#1f9a4c"]},"legend":null}}},
   {"data":{"name":"letters"},"transform":[{"filter":"datum.p=='d'"}],"mark":{"type":"text","align":"left","baseline":"middle","fontSize":15},"encoding":{"text":{"field":"t","type":"nominal"}}}
  ]},
 {"width":429,"height":287,
  "encoding":{
   "x":{"field":"x","type":"quantitative","scale":{"domain":[50,80],"nice":false,"zero":false},"axis":{"values":[50,51,52,53,54,55,56,57,58,59,60,61,62,63,64,65,66,67,68,69,70,71,72,73,74,75,76,77,78,79,80],"labelExpr":"datum.value % 5 == 0 ? datum.label : ''","title":null}},
   "y":{"field":"y","type":"quantitative","scale":{"domain":[0,0.6],"nice":false,"zero":false},"axis":{"values":[0,0.1,0.2,0.3,0.4,0.5],"format":"~g","title":"P₂O₅(wt.%)","titleX":-52,"titleY":113}}
  },
  "layer":[
   {"data":{"name":"e_slab"},"mark":{"type":"line","interpolate":"cardinal-closed","stroke":"#1c8c4e","strokeDash":[7,5],"strokeWidth":1.6,"clip":true},"encoding":{"order":{"value":null}}},
   {"data":{"name":"e_thick"},"mark":{"type":"line","interpolate":"cardinal-closed","stroke":"#b3157c","strokeWidth":1.6,"clip":true},"encoding":{"order":{"value":null}}},
   {"data":{"name":"e_delam"},"mark":{"type":"line","interpolate":"cardinal-closed","stroke":"#141414","fill":"#ebebeb","strokeWidth":1.5,"clip":true},"encoding":{"order":{"value":null}}},
   {"data":{"name":"dotted"},"mark":{"type":"line","stroke":"#111","strokeWidth":1,"strokeDash":[2,3]},"encoding":{"detail":{"field":"id","type":"nominal"},"order":{"value":null}}},
   {"data":{"name":"heads"},"transform":[{"filter":"datum.p=='e'"}],"mark":{"type":"point","shape":"triangle","filled":true,"color":"#111","size":110,"opacity":1},"encoding":{"angle":{"field":"ang","type":"quantitative","scale":null}}},
   {"data":{"name":"samples"},"transform":[{"filter":"datum.p=='e'"}],"mark":{"type":"point","filled":false,"size":150,"strokeWidth":1.5,"opacity":1,"clip":true},"encoding":{"shape":{"field":"rock","type":"nominal","scale":{"domain":["Granodiorite porphyry","K-feldspar granite"],"range":["diamond","circle"]},"legend":null},"color":{"field":"rock","type":"nominal","scale":{"domain":["Granodiorite porphyry","K-feldspar granite"],"range":["#d8262b","#1f9a4c"]},"legend":null}}},
   {"data":{"name":"notes"},"transform":[{"filter":"datum.p=='e'"}],"mark":{"type":"text","align":"left","baseline":"middle","fontSize":15},"encoding":{"text":{"field":"t","type":"nominal"}}},
   {"data":{"name":"vnotes"},"mark":{"type":"text","align":"center","baseline":"middle","angle":90,"fontSize":15},"encoding":{"text":{"field":"t","type":"nominal"}}},
   {"data":{"name":"letters"},"transform":[{"filter":"datum.p=='e'"}],"mark":{"type":"text","align":"left","baseline":"middle","fontSize":15},"encoding":{"text":{"field":"t","type":"nominal"}}}
  ]},
 {"width":433,"height":287,
  "encoding":{
   "x":{"field":"x","type":"quantitative","scale":{"domain":[50,80],"nice":false,"zero":false},"axis":{"values":[50,51,52,53,54,55,56,57,58,59,60,61,62,63,64,65,66,67,68,69,70,71,72,73,74,75,76,77,78,79,80],"labelExpr":"datum.value % 5 == 0 ? datum.label : ''","labelFlush":true,"title":null}},
   "y":{"field":"y","type":"quantitative","scale":{"domain":[0,140],"nice":false,"zero":false},"axis":{"values":[0,20,40,60,80,100,120,140],"labelExpr":"datum.value % 40 == 0 ? datum.label : ''","title":"Ni(ppm)","titleX":-61,"titleY":109}}
  },
  "layer":[
   {"data":{"name":"f_slab"},"mark":{"type":"line","interpolate":"cardinal-closed","stroke":"#1c8c4e","strokeDash":[7,5],"strokeWidth":1.6,"clip":true},"encoding":{"order":{"value":null}}},
   {"data":{"name":"f_thick"},"mark":{"type":"line","interpolate":"cardinal-closed","stroke":"#b3157c","strokeWidth":1.6,"clip":true},"encoding":{"order":{"value":null}}},
   {"data":{"name":"f_delam"},"mark":{"type":"line","interpolate":"cardinal-closed","stroke":"#141414","fill":"#ebebeb","strokeWidth":1.5,"clip":true},"encoding":{"order":{"value":null}}},
   {"data":{"name":"samples"},"transform":[{"filter":"datum.p=='f'"}],"mark":{"type":"point","filled":false,"size":150,"strokeWidth":1.5,"opacity":1,"clip":true},"encoding":{"shape":{"field":"rock","type":"nominal","scale":{"domain":["Granodiorite porphyry","K-feldspar granite"],"range":["diamond","circle"]},"legend":null},"color":{"field":"rock","type":"nominal","scale":{"domain":["Granodiorite porphyry","K-feldspar granite"],"range":["#d8262b","#1f9a4c"]},"legend":null}}},
   {"data":{"name":"letters"},"transform":[{"filter":"datum.p=='f'"}],"mark":{"type":"text","align":"left","baseline":"middle","fontSize":15},"encoding":{"text":{"field":"t","type":"nominal"}}}
  ]},
 {"width":429,"height":30,"view":{"stroke":null},"data":{"name":"blank"},"mark":{"type":"point","opacity":0}},
 {"width":433,"height":30,"view":{"stroke":null},"data":{"name":"blank"},"mark":{"type":"point","opacity":0}},
 {"width":429,"height":354,
  "encoding":{
   "x":{"field":"x","type":"quantitative","scale":{"domain":[47,75.7],"nice":false,"zero":false},"axis":{"values":[50,55,60,65,70,75],"offset":-7,"tickSize":7,"labelPadding":6,"title":"SiO₂(wt.%)","titleX":167,"titleY":44}},
   "y":{"field":"y","type":"quantitative","scale":{"domain":[12,20],"nice":false,"zero":false},"axis":{"values":[12,13,14,15,16,17,18,19,20],"labelExpr":"datum.value % 2 == 0 ? datum.label : ''","title":"Al₂O₃(wt.%)","titleX":-50,"titleY":175}}
  },
  "layer":[
   {"data":{"name":"g_fcmb"},"mark":{"type":"line","interpolate":"cardinal-closed","stroke":"#222","strokeWidth":1.1,"clip":true},"encoding":{"order":{"value":null}}},
   {"data":{"name":"g_pmlc"},"mark":{"type":"line","interpolate":"cardinal-closed","stroke":"#222","strokeWidth":1.1,"clip":true},"encoding":{"order":{"value":null}}},
   {"data":{"name":"samples"},"transform":[{"filter":"datum.p=='g'"}],"mark":{"type":"point","filled":false,"size":150,"strokeWidth":1.5,"opacity":1,"clip":true},"encoding":{"shape":{"field":"rock","type":"nominal","scale":{"domain":["Granodiorite porphyry","K-feldspar granite"],"range":["diamond","circle"]},"legend":null},"color":{"field":"rock","type":"nominal","scale":{"domain":["Granodiorite porphyry","K-feldspar granite"],"range":["#d8262b","#1f9a4c"]},"legend":null}}},
   {"data":{"name":"legend_box"},"mark":{"type":"rect","fill":"white","stroke":"#111","strokeWidth":2},"encoding":{"x2":{"field":"x2"},"y2":{"field":"y2"}}},
   {"data":{"name":"legend_sym"},"mark":{"type":"point","filled":false,"size":150,"strokeWidth":1.5,"opacity":1},"encoding":{"shape":{"field":"rock","type":"nominal","scale":{"domain":["Granodiorite porphyry","K-feldspar granite"],"range":["diamond","circle"]},"legend":null},"color":{"field":"rock","type":"nominal","scale":{"domain":["Granodiorite porphyry","K-feldspar granite"],"range":["#d8262b","#1f9a4c"]},"legend":null}}},
   {"data":{"name":"notes"},"transform":[{"filter":"datum.p=='g'"}],"mark":{"type":"text","align":"left","baseline":"middle","fontSize":16},"encoding":{"text":{"field":"t","type":"nominal"}}},
   {"data":{"name":"ref"},"mark":{"type":"text","align":"left","baseline":"middle","fontSize":15,"color":"#4a70b8"},"encoding":{"text":{"field":"t","type":"nominal"}}},
   {"data":{"name":"letters"},"transform":[{"filter":"datum.p=='g'"}],"mark":{"type":"text","align":"left","baseline":"middle","fontSize":15},"encoding":{"text":{"field":"t","type":"nominal"}}}
  ]},
 {"width":433,"height":354,
  "encoding":{
   "x":{"field":"x","type":"quantitative","scale":{"domain":[45.3,80],"nice":false,"zero":false},"axis":{"values":[50,55,60,65,70,75,80],"offset":-7,"tickSize":7,"labelPadding":6,"labelFlush":true,"title":"SiO₂(wt.%)","titleX":227,"titleY":44}},
   "y":{"field":"y","type":"quantitative","scale":{"domain":[0,90],"nice":false,"zero":false},"axis":{"values":[0,10,20,30,40,50,60,70,80,90],"labelExpr":"datum.value % 20 == 0 ? datum.label : ''","title":"Mg#","titleX":-50,"titleY":197}}
  },
  "layer":[
   {"data":{"name":"h_mantle"},"mark":{"type":"line","interpolate":"linear-closed","stroke":"#141414","fill":"#ebebeb","strokeWidth":1.5,"clip":true},"encoding":{"order":{"value":null}}},
   {"data":{"name":"h_slab"},"mark":{"type":"line","interpolate":"cardinal-closed","stroke":"#1c8c4e","strokeDash":[7,5],"strokeWidth":1.6,"clip":true},"encoding":{"order":{"value":null}}},
   {"data":{"name":"h_meta"},"mark":{"type":"line","interpolate":"cardinal-closed","stroke":"#1e1e78","strokeDash":[8,5],"strokeWidth":1.6,"clip":true},"encoding":{"order":{"value":null}}},
   {"data":{"name":"h_delam"},"mark":{"type":"line","interpolate":"cardinal-closed","stroke":"#141414","fill":"#ebebeb","strokeWidth":1.5,"clip":true},"encoding":{"order":{"value":null}}},
   {"data":{"name":"h_thick"},"mark":{"type":"line","interpolate":"cardinal-closed","stroke":"#b3157c","strokeWidth":1.6,"clip":true},"encoding":{"order":{"value":null}}},
   {"data":{"name":"arrows"},"transform":[{"filter":"datum.p=='h'"}],"mark":{"type":"line","stroke":"#111","strokeWidth":1},"encoding":{"detail":{"field":"id","type":"nominal"},"order":{"value":null}}},
   {"data":{"name":"heads"},"transform":[{"filter":"datum.p=='h'"}],"mark":{"type":"point","shape":"triangle","filled":true,"color":"#111","size":40,"opacity":1},"encoding":{"angle":{"field":"ang","type":"quantitative","scale":null}}},
   {"data":{"name":"samples"},"transform":[{"filter":"datum.p=='h'"}],"mark":{"type":"point","filled":false,"size":150,"strokeWidth":1.5,"opacity":1,"clip":true},"encoding":{"shape":{"field":"rock","type":"nominal","scale":{"domain":["Granodiorite porphyry","K-feldspar granite"],"range":["diamond","circle"]},"legend":null},"color":{"field":"rock","type":"nominal","scale":{"domain":["Granodiorite porphyry","K-feldspar granite"],"range":["#d8262b","#1f9a4c"]},"legend":null}}},
   {"data":{"name":"notes"},"transform":[{"filter":"datum.p=='h'"}],"mark":{"type":"text","align":"left","baseline":"middle","fontSize":16},"encoding":{"text":{"field":"t","type":"nominal"}}},
   {"data":{"name":"letters"},"transform":[{"filter":"datum.p=='h'"}],"mark":{"type":"text","align":"left","baseline":"middle","fontSize":15},"encoding":{"text":{"field":"t","type":"nominal"}}}
  ]}
]
}
